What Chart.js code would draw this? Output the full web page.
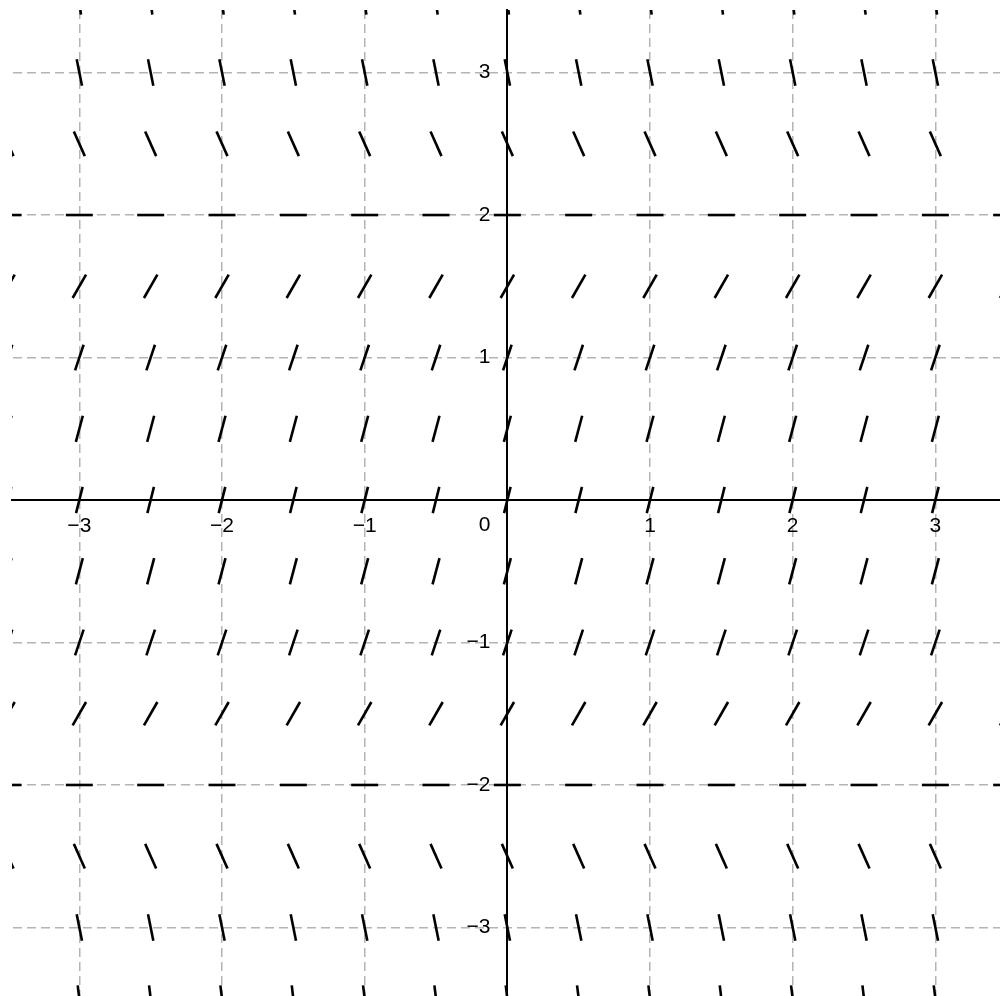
<!DOCTYPE html>
<html>
<head>
<meta charset="utf-8">
<script src="https://cdn.jsdelivr.net/npm/chart.js@4.4.1/dist/chart.umd.min.js"></script>
<style>
html,body{margin:0;padding:0;background:#ffffff;overflow:hidden;}
#wrap{width:1000px;height:996px;position:relative;}
canvas{display:block;}
</style>
</head>
<body>
<div id="wrap"><canvas id="c"></canvas></div>
<script>
// Slope field: grid of sample points and the slope read at each row (slope depends only on y)
const xColumns = [-3.5, -3, -2.5, -2, -1.5, -1, -0.5, 0, 0.5, 1, 1.5, 2, 2.5, 3, 3.5];
const yRows    = [3.5, 3, 2.5, 2, 1.5, 1, 0.5, 0, -0.5, -1, -1.5, -2, -2.5, -3, -3.5];
const rowSlopes = [-8.25, -5, -2.25, 0, 1.75, 3, 3.75, 4, 3.75, 3, 1.75, 0, -2.25, -5, -8.25];
const xTickValues = [-3, -2, -1, 0, 1, 2, 3];
const yTickValues = [-3, -2, -1, 0, 1, 2, 3];
const xRange = [-3.472, 3.453];
const yRange = [-3.481, 3.439];

const points = [];
yRows.forEach((yv, i) => {
  xColumns.forEach(xv => points.push({x: xv, y: yv, s: rowSlopes[i]}));
});

const fmt = v => (v < 0 ? '\u2212' + Math.abs(v) : String(v));
const tickFont = {family: "'Liberation Sans', Arial, Helvetica, sans-serif", size: 21};

// place the y axis (and its label box) so that its right edge sits on x = 0
const centerYAxis = {
  id: 'centerYAxis',
  afterLayout(chart) {
    const y = chart.scales.y, x = chart.scales.x;
    const px = x.getPixelForValue(0);
    y.left = px - 80; y.right = px;
  }
};

new Chart(document.getElementById('c'), {
  type: 'scatter',
  data: {
    datasets: [{
      data: points,
      pointStyle: 'line',
      pointRadius: 13.5,
      pointHoverRadius: 13.5,
      pointBorderWidth: 2.6,
      pointHoverBorderWidth: 2.6,
      borderColor: '#000000',
      backgroundColor: '#000000',
      clip: 0,
      pointRotation: (ctx) => {
        const p = ctx.raw; if (!p) return 0;
        const sx = ctx.chart.scales.x, sy = ctx.chart.scales.y;
        const ux = sx.getPixelForValue(1) - sx.getPixelForValue(0);
        const uy = sy.getPixelForValue(0) - sy.getPixelForValue(1);
        return -Math.atan(p.s * uy / ux) * 180 / Math.PI;
      }
    }]
  },
  plugins: [centerYAxis],
  options: {
    responsive: true,
    maintainAspectRatio: false,
    animation: false,
    events: [],
    layout: {autoPadding: false, padding: {left: 12, top: 10, right: 0, bottom: 0}},
    plugins: {legend: {display: false}, tooltip: {enabled: false}},
    scales: {
      x: {
        type: 'linear',
        position: {y: 0},
        min: xRange[0], max: xRange[1],
        afterFit: s => { s.height = 0; s.paddingLeft = 0; s.paddingRight = 0; s.paddingTop = 0; s.paddingBottom = 0; },
        afterBuildTicks: s => { s.ticks = xTickValues.map(v => ({value: v})); },
        ticks: {
          autoSkip: false, maxRotation: 0, padding: 14, color: '#000',
          font: tickFont,
          callback: v => (v === 0 ? '' : fmt(v))
        },
        grid: {
          drawTicks: false,
          lineWidth: 1.5,
          color: c => (c.tick && c.tick.value === 0 ? 'rgba(0,0,0,0)' : '#b4b4b4')
        },
        border: {display: true, color: '#000000', width: 2, dash: [9, 5]}
      },
      y: {
        type: 'linear',
        position: 'left',
        min: yRange[0], max: yRange[1],
        afterFit: s => { s.width = 0; s.paddingLeft = 0; s.paddingRight = 0; s.paddingTop = 0; s.paddingBottom = 0; },
        afterBuildTicks: s => { s.ticks = yTickValues.map(v => ({value: v})); },
        ticks: {
          autoSkip: false, padding: 17, color: '#000',
          font: tickFont,
          callback: v => (v === 0 ? ['', '', '0'] : fmt(v))
        },
        grid: {
          drawTicks: false,
          lineWidth: 1.5,
          color: c => (c.tick && c.tick.value === 0 ? 'rgba(0,0,0,0)' : '#b4b4b4')
        },
        border: {display: true, color: '#000000', width: 2, dash: [9, 5]}
      }
    }
  }
});
</script>
</body>
</html>
